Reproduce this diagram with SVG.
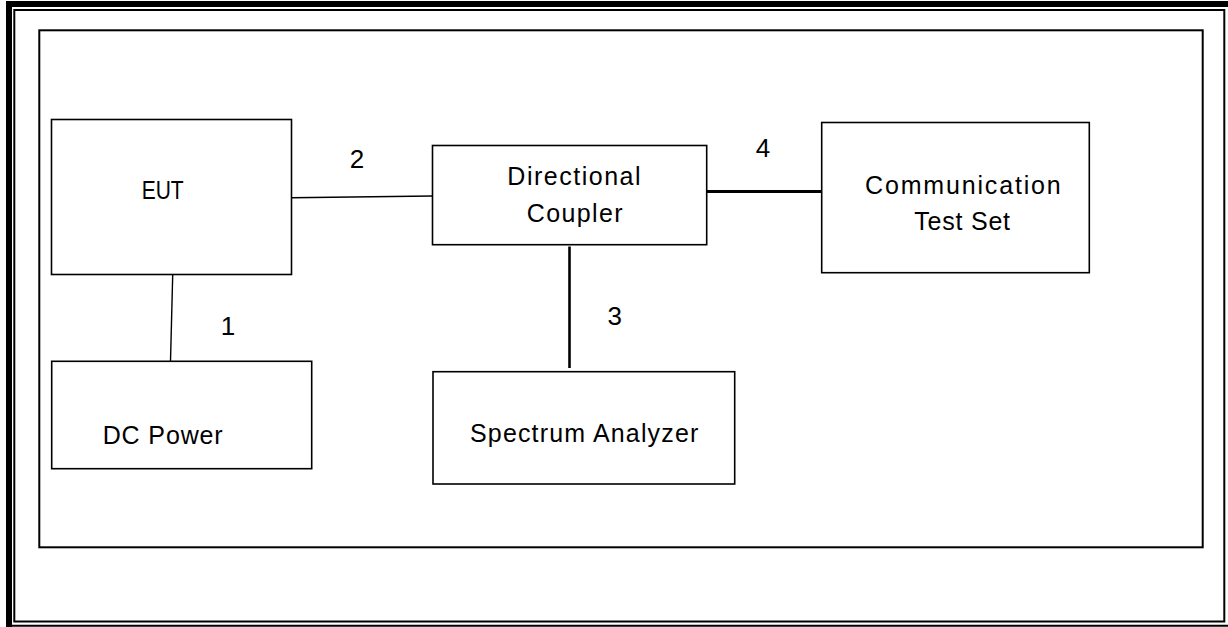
<svg xmlns="http://www.w3.org/2000/svg" width="1228" height="627" viewBox="0 0 1228 627">
<style>
.box{fill:#fff;stroke:#000;stroke-width:1.6}
.lbl{font-family:"Liberation Sans",Arial,sans-serif;font-size:25px;fill:#000}
.num{font-family:"Liberation Sans",Arial,sans-serif;font-size:26px;fill:#000;text-anchor:middle}
.wire{stroke:#000;fill:none}
</style>
<rect width="1228" height="627" fill="#fff"/>
<g id="page-border">
<rect x="6" y="1" width="6" height="626" fill="#000"/>
<rect x="6" y="1" width="1222" height="6" fill="#000"/>
<rect x="14.3" y="10" width="1210" height="611.5" fill="none" stroke="#000" stroke-width="2"/>
<line x1="12" y1="625.8" x2="1228" y2="625.8" stroke="#000" stroke-width="2"/>
</g>
<g id="frame">
<rect x="39.3" y="30.3" width="1163.4" height="517" fill="none" stroke="#000" stroke-width="2"/>
</g>
<g id="connectors">
<line class="wire" x1="291.5" y1="197.8" x2="432.5" y2="196" stroke-width="1.4"/>
<line class="wire" x1="172.7" y1="275" x2="170.5" y2="361.3" stroke-width="1.4"/>
<line class="wire" x1="569.5" y1="246.5" x2="569.5" y2="368" stroke-width="2.6"/>
<line class="wire" x1="706.7" y1="191.5" x2="821.7" y2="191.5" stroke-width="3"/>
<text class="num" x="228" y="335">1</text>
<text class="num" x="357" y="167.7">2</text>
<text class="num" x="614.7" y="325">3</text>
<text class="num" x="763" y="157.3">4</text>
</g>
<g id="eut">
<rect class="box" x="51.5" y="119.5" width="240" height="155"/>
<text class="lbl" x="141.7" y="199.3" textLength="42" lengthAdjust="spacingAndGlyphs">EUT</text>
</g>
<g id="directional-coupler">
<rect class="box" x="432.5" y="145.5" width="274.2" height="99.2"/>
<text class="lbl" x="507.3" y="185.3" textLength="133.3">Directional</text>
<text class="lbl" x="526.7" y="221.7" textLength="96">Coupler</text>
</g>
<g id="communication-test-set">
<rect class="box" x="821.7" y="122.5" width="267.6" height="150.2"/>
<text class="lbl" x="865" y="194.3" textLength="195.7">Communication</text>
<text class="lbl" x="914.3" y="230" textLength="95.7">Test Set</text>
</g>
<g id="dc-power">
<rect class="box" x="51.7" y="361.3" width="260" height="107.4"/>
<text class="lbl" x="102.7" y="444" textLength="120">DC Power</text>
</g>
<g id="spectrum-analyzer">
<rect class="box" x="433" y="371.7" width="301.7" height="112.3"/>
<text class="lbl" x="470" y="441.7" textLength="228.3">Spectrum Analyzer</text>
</g>
</svg>
